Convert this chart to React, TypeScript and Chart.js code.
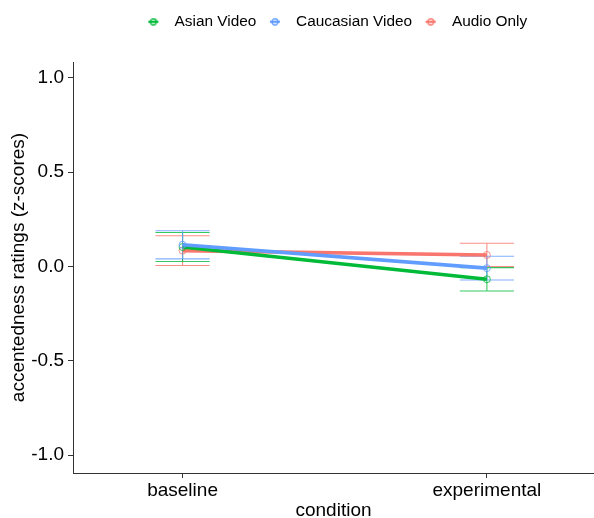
import React, { useEffect, useRef } from 'react';
import { Chart, registerables } from 'chart.js';

Chart.register(...registerables);

const FONT = '"Liberation Sans", Arial, Helvetica, sans-serif';

const conditions = ['baseline', 'experimental'];
const conditionPos = [1, 2];
const groups = ['Asian Video', 'Caucasian Video', 'Audio Only'];
const groupColors = ['#00BA38', '#619CFF', '#F8766D'];

const asianMean = [0.103, -0.068];
const asianLo = [0.026, -0.130];
const asianHi = [0.180, -0.006];

const caucasianMean = [0.115, -0.009];
const caucasianLo = [0.040, -0.072];
const caucasianHi = [0.189, 0.054];

const audioMean = [0.084, 0.061];
const audioLo = [0.005, -0.001];
const audioHi = [0.163, 0.123];

const yTicks = [-1.0, -0.5, 0.0, 0.5, 1.0];

const means = [asianMean, caucasianMean, audioMean];
const lows = [asianLo, caucasianLo, audioLo];
const highs = [asianHi, caucasianHi, audioHi];
const drawOrder = [2, 1, 3];

function hexToRgba(hex: string, a: number) {
  const n = parseInt(hex.slice(1), 16);
  return `rgba(${(n >> 16) & 255},${(n >> 8) & 255},${n & 255},${a})`;
}

function makeLegendMarker(color: string) {
  const c = document.createElement('canvas');
  c.width = 12;
  c.height = 8;
  const ctx = c.getContext('2d')!;
  ctx.strokeStyle = color;
  ctx.lineWidth = 2.2;
  ctx.beginPath();
  ctx.moveTo(1, 4);
  ctx.lineTo(11, 4);
  ctx.stroke();
  ctx.lineWidth = 1.3;
  ctx.beginPath();
  ctx.arc(6, 4, 3, 0, Math.PI * 2);
  ctx.stroke();
  return c;
}

const CAP_HALF = 0.089;

const errorBarPlugin = {
  id: 'errorBars',
  beforeDatasetsDraw(chart: any) {
    const { ctx } = chart;
    const xs = chart.scales.x;
    const ys = chart.scales.y;
    ctx.save();
    ctx.beginPath();
    ctx.rect(chart.chartArea.left, chart.chartArea.top, chart.chartArea.width, chart.chartArea.height);
    ctx.clip();
    [2, 0, 1].forEach((di) => {
      const ds = chart.data.datasets[di];
      ctx.strokeStyle = hexToRgba(ds.borderColor, 0.8);
      ctx.lineWidth = 1.1;
      ds.data.forEach((p: any, i: number) => {
        const px = xs.getPixelForValue(p.x);
        const xl = xs.getPixelForValue(p.x - CAP_HALF);
        const xr = xs.getPixelForValue(p.x + CAP_HALF);
        const yl = ys.getPixelForValue(ds.lo[i]);
        const yh = ys.getPixelForValue(ds.hi[i]);
        ctx.beginPath();
        ctx.moveTo(px, yl);
        ctx.lineTo(px, yh);
        ctx.moveTo(xl, yl);
        ctx.lineTo(xr, yl);
        ctx.moveTo(xl, yh);
        ctx.lineTo(xr, yh);
        ctx.stroke();
      });
    });
    ctx.restore();
  },
};

const legendPlugin = {
  id: 'legendPlace',
  beforeInit(chart: any) {
    const legend = chart.legend;
    if (!legend) return;
    const orig = legend.fit;
    legend.fit = function () {
      orig.call(this);
      this.height = 62;
    };
  },
  afterLayout(chart: any) {
    const legend = chart.legend;
    if (!legend) return;
    legend.left = 73;
    legend.right = 594;
    legend.top = 9;
  },
};

export default function App() {
  const ref = useRef<HTMLCanvasElement | null>(null);

  useEffect(() => {
    if (!ref.current) return;
    const markers = groupColors.map((c) => makeLegendMarker(c));
    const datasets = groups.map((g, gi) => ({
      label: g,
      data: conditionPos.map((x, i) => ({ x, y: means[gi][i] })),
      lo: lows[gi],
      hi: highs[gi],
      borderColor: groupColors[gi],
      backgroundColor: 'rgba(0,0,0,0)',
      borderWidth: 3.6,
      pointRadius: 3.5,
      pointBorderWidth: 1,
      pointBorderColor: hexToRgba(groupColors[gi], 0.8),
      pointBackgroundColor: 'rgba(0,0,0,0)',
      pointStyle: 'circle',
      tension: 0,
      order: drawOrder[gi],
    }));

    const chart = new Chart(ref.current, {
      type: 'line',
      data: { datasets: datasets as any },
      options: {
        responsive: false,
        animation: false,
        layout: { autoPadding: false, padding: { left: 0, right: 0, top: 0, bottom: 0 } },
        plugins: {
          tooltip: { enabled: false },
          legend: {
            display: true,
            position: 'top',
            align: 'center',
            labels: {
              usePointStyle: true,
              pointStyleWidth: 27,
              boxHeight: 8,
              padding: 5,
              color: '#000',
              font: { size: 15.4, family: FONT },
              generateLabels: (c: any) =>
                c.data.datasets.map((ds: any, i: number) => ({
                  text: ds.label,
                  pointStyle: markers[i],
                  fillStyle: 'rgba(0,0,0,0)',
                  strokeStyle: ds.borderColor,
                  fontColor: '#000',
                  lineWidth: 0,
                  hidden: false,
                  datasetIndex: i,
                })),
            },
          },
        },
        scales: {
          x: {
            type: 'linear',
            min: 0.64,
            max: 2.352,
            afterBuildTicks: (s: any) => {
              s.ticks = conditionPos.map((v) => ({ value: v }));
            },
            afterFit: (s: any) => {
              s.height = 45;
            },
            ticks: {
              autoSkip: false,
              maxRotation: 0,
              padding: 1,
              color: '#000',
              font: { size: 19, family: FONT },
              callback: (v: any) => {
                const idx = conditionPos.indexOf(Number(v));
                return idx >= 0 ? conditions[idx] : '';
              },
            },
            grid: { display: true, drawOnChartArea: false, drawTicks: true, tickLength: 5, color: '#333', lineWidth: 1 },
            border: { display: true, color: '#333', width: 1 },
            title: {
              display: true,
              text: 'condition',
              color: '#000',
              font: { size: 19, family: FONT },
              padding: { top: 0, bottom: -4 },
            },
          },
          y: {
            type: 'linear',
            min: -1.095,
            max: 1.084,
            afterBuildTicks: (s: any) => {
              s.ticks = yTicks.map((v) => ({ value: v }));
            },
            afterFit: (s: any) => {
              s.width = 73;
            },
            ticks: {
              padding: 4,
              color: '#000',
              font: { size: 19, family: FONT },
              callback: (v: any) => Number(v).toFixed(1),
            },
            grid: { display: true, drawOnChartArea: false, drawTicks: true, tickLength: 5, color: '#333', lineWidth: 1 },
            border: { display: true, color: '#333', width: 1 },
            title: {
              display: true,
              text: 'accentedness ratings (z-scores)',
              color: '#000',
              font: { size: 19, family: FONT },
              padding: { top: 7, bottom: 0 },
            },
          },
        },
      },
      plugins: [errorBarPlugin, legendPlugin],
    } as any);

    return () => chart.destroy();
  }, []);

  return (
    <canvas
      ref={ref}
      width={594}
      height={518}
      style={{ position: 'absolute', left: 0, top: 0, width: 594, height: 518 }}
    />
  );
}
